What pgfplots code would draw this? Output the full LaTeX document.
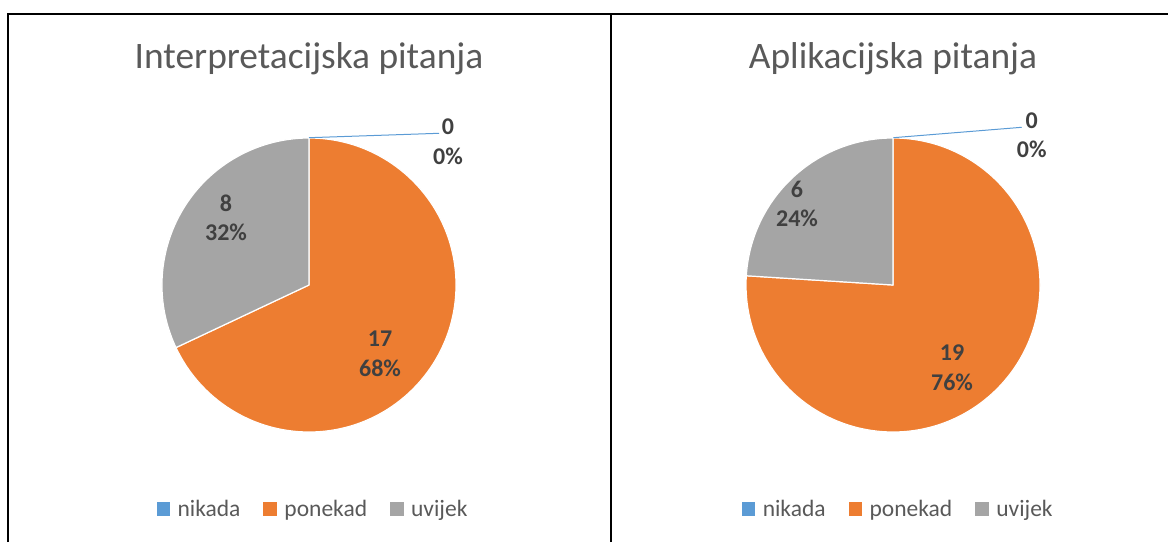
\documentclass[border=0pt]{standalone}
\usepackage{pgfplots}
\pgfplotsset{compat=1.18}
\usepackage{pgfplotstable}
\usepackage{fontspec}
\setmainfont{Carlito}
\definecolor{cnik}{HTML}{5B9BD5}
\definecolor{cpon}{HTML}{ED7D31}
\definecolor{cuvi}{HTML}{A5A5A5}
\definecolor{ctitle}{HTML}{595959}
\definecolor{clab}{HTML}{404040}

\pgfplotstableread{
odgovor broj
nikada 0
ponekad 17
uvijek 8
}\tabInterp
\pgfplotstableread{
odgovor broj
nikada 0
ponekad 19
uvijek 6
}\tabApl

\newcommand\pieangles[1]{%
 \pgfplotstablegetelem{0}{broj}\of#1\edef\vA{\pgfplotsretval}%
 \pgfplotstablegetelem{1}{broj}\of#1\edef\vB{\pgfplotsretval}%
 \pgfplotstablegetelem{2}{broj}\of#1\edef\vC{\pgfplotsretval}%
 \pgfmathsetmacro\tot{\vA+\vB+\vC}%
 \pgfmathsetmacro\aA{90-360*\vA/\tot}%
 \pgfmathsetmacro\aB{\aA-360*\vB/\tot}%
 \pgfmathsetmacro\aC{\aB-360*\vC/\tot}%
}
% #1,#2 centre (axis units = pt), #3 radius
\newcommand\drawpie[3]{%
 \filldraw[fill=cpon, draw=white, line width=1.2pt, line join=round]
   (axis cs:#1,#2) -- ([shift={(\aA:#3pt)}]axis cs:#1,#2)
   arc[start angle=\aA, end angle=\aB, radius=#3pt] -- cycle;
 \filldraw[fill=cuvi, draw=white, line width=1.2pt, line join=round]
   (axis cs:#1,#2) -- ([shift={(\aB:#3pt)}]axis cs:#1,#2)
   arc[start angle=\aB, end angle=\aC, radius=#3pt] -- cycle;
}

\pgfplotsset{panel/.style={hide axis, scale only axis, width=1168pt, height=542pt,
  xmin=0, xmax=1168, ymin=0, ymax=542, clip=false, at={(0pt,0pt)}, anchor=south west,
  legend style={anchor=center, draw=none, fill=none, legend columns=-1,
    font=\fontsize{23.5}{28}\selectfont, text=ctitle,
    /tikz/every odd column/.append style={column sep=6pt},
    /tikz/every even column/.append style={column sep=21pt}},
  legend image code/.code={\fill[##1] (0pt,-6.3pt) rectangle (12.6pt,6.3pt);}
}}

\begin{document}
\begin{tikzpicture}
\useasboundingbox (0pt,0pt) rectangle (1168pt,542pt);
\pieangles{\tabInterp}
\begin{axis}[panel, legend style={at={(0.268,0.061)}}]
\draw[black, line width=2pt] (axis cs:8,0) -- (axis cs:8,528) -- (axis cs:1168,528);
\draw[black, line width=2pt] (axis cs:611,0) -- (axis cs:611,528);
\drawpie{309}{257}{147}
\draw[cnik, line width=1pt] (axis cs:309,404.3) -- (axis cs:439,408.7);
\node[anchor=base, text=ctitle, font=\fontsize{37.4}{44}\selectfont] at (axis cs:309,473.7) {Interpretacijska pitanja};
\node[anchor=base, text=clab, font=\bfseries\fontsize{24}{29}\selectfont] at (axis cs:448,407.5) {0};
\node[anchor=base, text=clab, font=\bfseries\fontsize{24}{29}\selectfont] at (axis cs:448,377.2) {0\%};
\node[anchor=base, text=clab, font=\bfseries\fontsize{24}{29}\selectfont] at (axis cs:226,330.3) {8};
\node[anchor=base, text=clab, font=\bfseries\fontsize{24}{29}\selectfont] at (axis cs:226,301.3) {32\%};
\node[anchor=base, text=clab, font=\bfseries\fontsize{24}{29}\selectfont] at (axis cs:380,195.2) {17};
\node[anchor=base, text=clab, font=\bfseries\fontsize{24}{29}\selectfont] at (axis cs:380,165.2) {68\%};
\addlegendimage{cnik}\addlegendentry{nikada}
\addlegendimage{cpon}\addlegendentry{ponekad}
\addlegendimage{cuvi}\addlegendentry{uvijek}
\end{axis}
\pieangles{\tabApl}
\begin{axis}[panel, legend style={at={(0.769,0.061)}}]
\drawpie{893}{257}{147}
\draw[cnik, line width=1pt] (axis cs:893.3,404.3) -- (axis cs:1021.7,414.7);
\node[anchor=base, text=ctitle, font=\fontsize{37.4}{44}\selectfont] at (axis cs:893,473.7) {Aplikacijska pitanja};
\node[anchor=base, text=clab, font=\bfseries\fontsize{24}{29}\selectfont] at (axis cs:1031.7,413.5) {0};
\node[anchor=base, text=clab, font=\bfseries\fontsize{24}{29}\selectfont] at (axis cs:1031.7,384.2) {0\%};
\node[anchor=base, text=clab, font=\bfseries\fontsize{24}{29}\selectfont] at (axis cs:797,344.2) {6};
\node[anchor=base, text=clab, font=\bfseries\fontsize{24}{29}\selectfont] at (axis cs:797,315.2) {24\%};
\node[anchor=base, text=clab, font=\bfseries\fontsize{24}{29}\selectfont] at (axis cs:952,181.2) {19};
\node[anchor=base, text=clab, font=\bfseries\fontsize{24}{29}\selectfont] at (axis cs:952,151.2) {76\%};
\addlegendimage{cnik}\addlegendentry{nikada}
\addlegendimage{cpon}\addlegendentry{ponekad}
\addlegendimage{cuvi}\addlegendentry{uvijek}
\end{axis}
\end{tikzpicture}
\end{document}
